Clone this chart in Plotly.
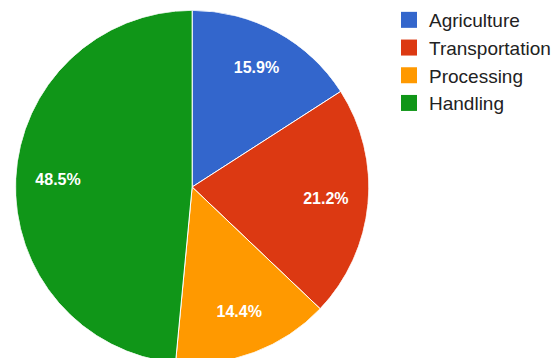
import plotly.graph_objects as go

categories = ["Agriculture", "Transportation", "Processing", "Handling"]
values = [15.9, 21.2, 14.4, 48.5]
colors = ["#3366CC", "#DC3912", "#FF9900", "#109618"]

# figure is slightly taller than the window so the pie's bottom is cropped like the reference
W, H = 556, 364
DOM = dict(x=[15.5/W, 369.5/W], y=[0.0, 354/H])
FONT = "Arial, Liberation Sans, sans-serif"

total = sum(values)
mids, widths, acc = [], [], 0.0
for v in values:
    mids.append((acc + v / 2) / total * 360)
    widths.append(v / total * 360)
    acc += v
labels_txt = [f"{v / total * 100:.1f}%" for v in values]

fig = go.Figure()
fig.add_trace(go.Barpolar(
    r=[1] * len(values), theta=mids, width=widths, base=0,
    marker=dict(color=colors, line=dict(color="white", width=1)),
    showlegend=False, text=categories, hoverinfo="text",
))
fig.add_trace(go.Scatterpolar(
    r=[0.76] * len(values), theta=mids, mode="text", text=labels_txt,
    textfont=dict(color="white", size=16, family=FONT, weight="bold"),
    showlegend=False, hoverinfo="skip",
))
for c, col in zip(categories, colors):
    fig.add_trace(go.Scatter(
        x=[None], y=[None], mode="markers", name=c,
        marker=dict(symbol="square", size=16, color=col), showlegend=True,
    ))

fig.update_layout(
    width=W, height=H, margin=dict(l=0, r=0, t=0, b=0),
    paper_bgcolor="white", plot_bgcolor="white",
    xaxis=dict(visible=False), yaxis=dict(visible=False),
    polar=dict(domain=DOM, bgcolor="rgba(0,0,0,0)", bargap=0, hole=0,
               radialaxis=dict(visible=False, range=[0, 1]),
               angularaxis=dict(visible=False, rotation=90, direction="clockwise")),
    legend=dict(x=390/W, y=1 - 1/H, xanchor="left", yanchor="top",
                font=dict(size=19, color="#222222", family=FONT),
                itemsizing="trace", bgcolor="rgba(0,0,0,0)"),
    font=dict(family=FONT),
)
fig.write_html("out.html",
               post_script="document.documentElement.style.overflow='hidden';document.body.style.overflow='hidden';")
